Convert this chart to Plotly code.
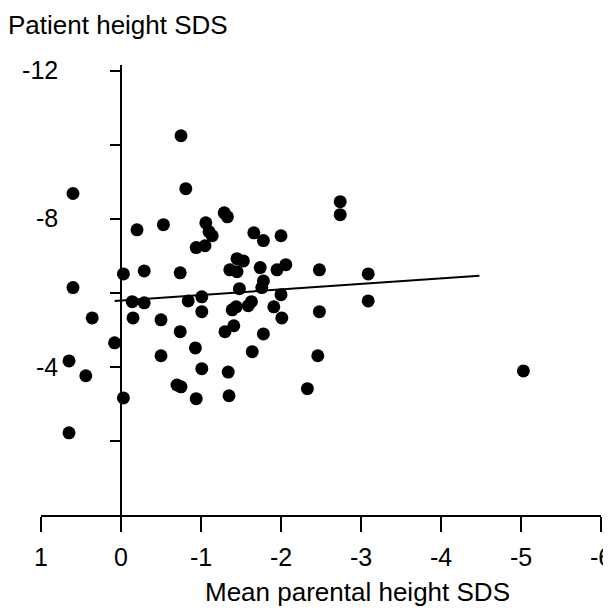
import plotly.graph_objects as go

# Mean parental height SDS (x) and patient height SDS (y)
parent_sds = [-0.75, 0.60, -0.81, -1.29, -1.33, -0.20, -0.53, -1.06, -1.10, -1.14,
              -0.94, -1.05, -1.66, -1.78, -2.00, -2.74, -2.74, -0.03, -0.29, -0.74,
              -1.36, -1.45, -1.53, -1.45, -1.74, -1.78, -1.76, -1.95, -2.06, -2.48,
              -3.09, 0.60, -1.48, -0.14, -0.29, -0.84, -1.01, -1.01, -2.00, -1.39,
              -1.44, -1.59, -1.63, -1.91, -3.09, 0.36, -0.15, -0.50, -2.01, -2.48,
              0.08, -0.74, -1.30, -1.41, -1.78, 0.65, -0.50, -0.93, -1.64, -2.46,
              0.44, -1.01, -1.34, -0.70, -0.75, -0.03, -0.94, -1.35, -2.33, 0.65,
              -5.03]
patient_sds = [-10.24, -8.68, -8.81, -8.16, -8.05, -7.70, -7.84, -7.89, -7.65, -7.54,
               -7.22, -7.27, -7.62, -7.41, -7.54, -8.46, -8.11, -6.51, -6.59, -6.54,
               -6.62, -6.92, -6.86, -6.57, -6.68, -6.32, -6.14, -6.62, -6.76, -6.62,
               -6.51, -6.14, -6.11, -5.76, -5.73, -5.78, -5.89, -5.49, -5.95, -5.54,
               -5.62, -5.65, -5.76, -5.62, -5.78, -5.32, -5.32, -5.27, -5.32, -5.49,
               -4.65, -4.95, -4.95, -5.11, -4.89, -4.16, -4.30, -4.51, -4.41, -4.30,
               -3.76, -3.95, -3.86, -3.51, -3.46, -3.16, -3.14, -3.22, -3.41, -2.22,
               -3.89]

# Regression line end points
fit_x = [0.08, -4.48]
fit_y = [-5.78, -6.46]

x_tick_vals = [1, 0, -1, -2, -3, -4, -5, -6]
x_tick_text = ["1", "0", "-1", "-2", "-3", "-4", "-5", "-6"]
y_tick_vals = [-12, -10, -8, -6, -4, -2]
y_tick_text = ["-12", "", "-8", "", "-4", ""]

FONT = "Liberation Sans, Arial, Helvetica, sans-serif"

fig = go.Figure()
fig.add_trace(go.Scatter(
    x=fit_x, y=fit_y, mode="lines",
    line=dict(color="black", width=2), hoverinfo="skip", showlegend=False))
fig.add_trace(go.Scatter(
    x=parent_sds, y=patient_sds, mode="markers",
    marker=dict(color="black", size=13, line=dict(width=0)),
    hoverinfo="skip", showlegend=False))

fig.update_layout(
    template="none",
    width=611, height=615,
    margin=dict(l=33, r=18, t=57, b=108, autoexpand=False),
    paper_bgcolor="white", plot_bgcolor="white",
    font=dict(family=FONT, color="black", size=25),
    hovermode=False,
    title=dict(text="Patient height SDS", xref="container", x=0, xanchor="left",
               yref="container", y=1 - 17/615, yanchor="middle",
               font=dict(family=FONT, size=26, color="black")),
    xaxis=dict(range=[1, -6], tickvals=x_tick_vals, ticktext=x_tick_text,
               automargin=False, ticklabeloverflow="allow",
               showgrid=False, zeroline=False, showline=True, linecolor="black",
               linewidth=1.5, ticks="outside", ticklen=15, tickwidth=1.5,
               tickcolor="black", tickfont=dict(size=25), ticklabelstandoff=4),
    yaxis=dict(range=[0, -12.15], tickvals=y_tick_vals, ticktext=y_tick_text,
               anchor="free", position=1/7, automargin=False,
               showgrid=False, zeroline=False, showline=True, linecolor="black",
               linewidth=1.5, ticks="outside", ticklen=10, tickwidth=1.5,
               tickcolor="black", tickfont=dict(size=25), ticklabelstandoff=47),
    annotations=[dict(text="Mean parental height SDS", xref="paper", yref="paper",
                      x=(357 - 41) / 560, y=(515 - 592) / 450,
                      xanchor="center", yanchor="middle", showarrow=False,
                      font=dict(family=FONT, size=26, color="black"))],
)

fig.write_html("out.html")
